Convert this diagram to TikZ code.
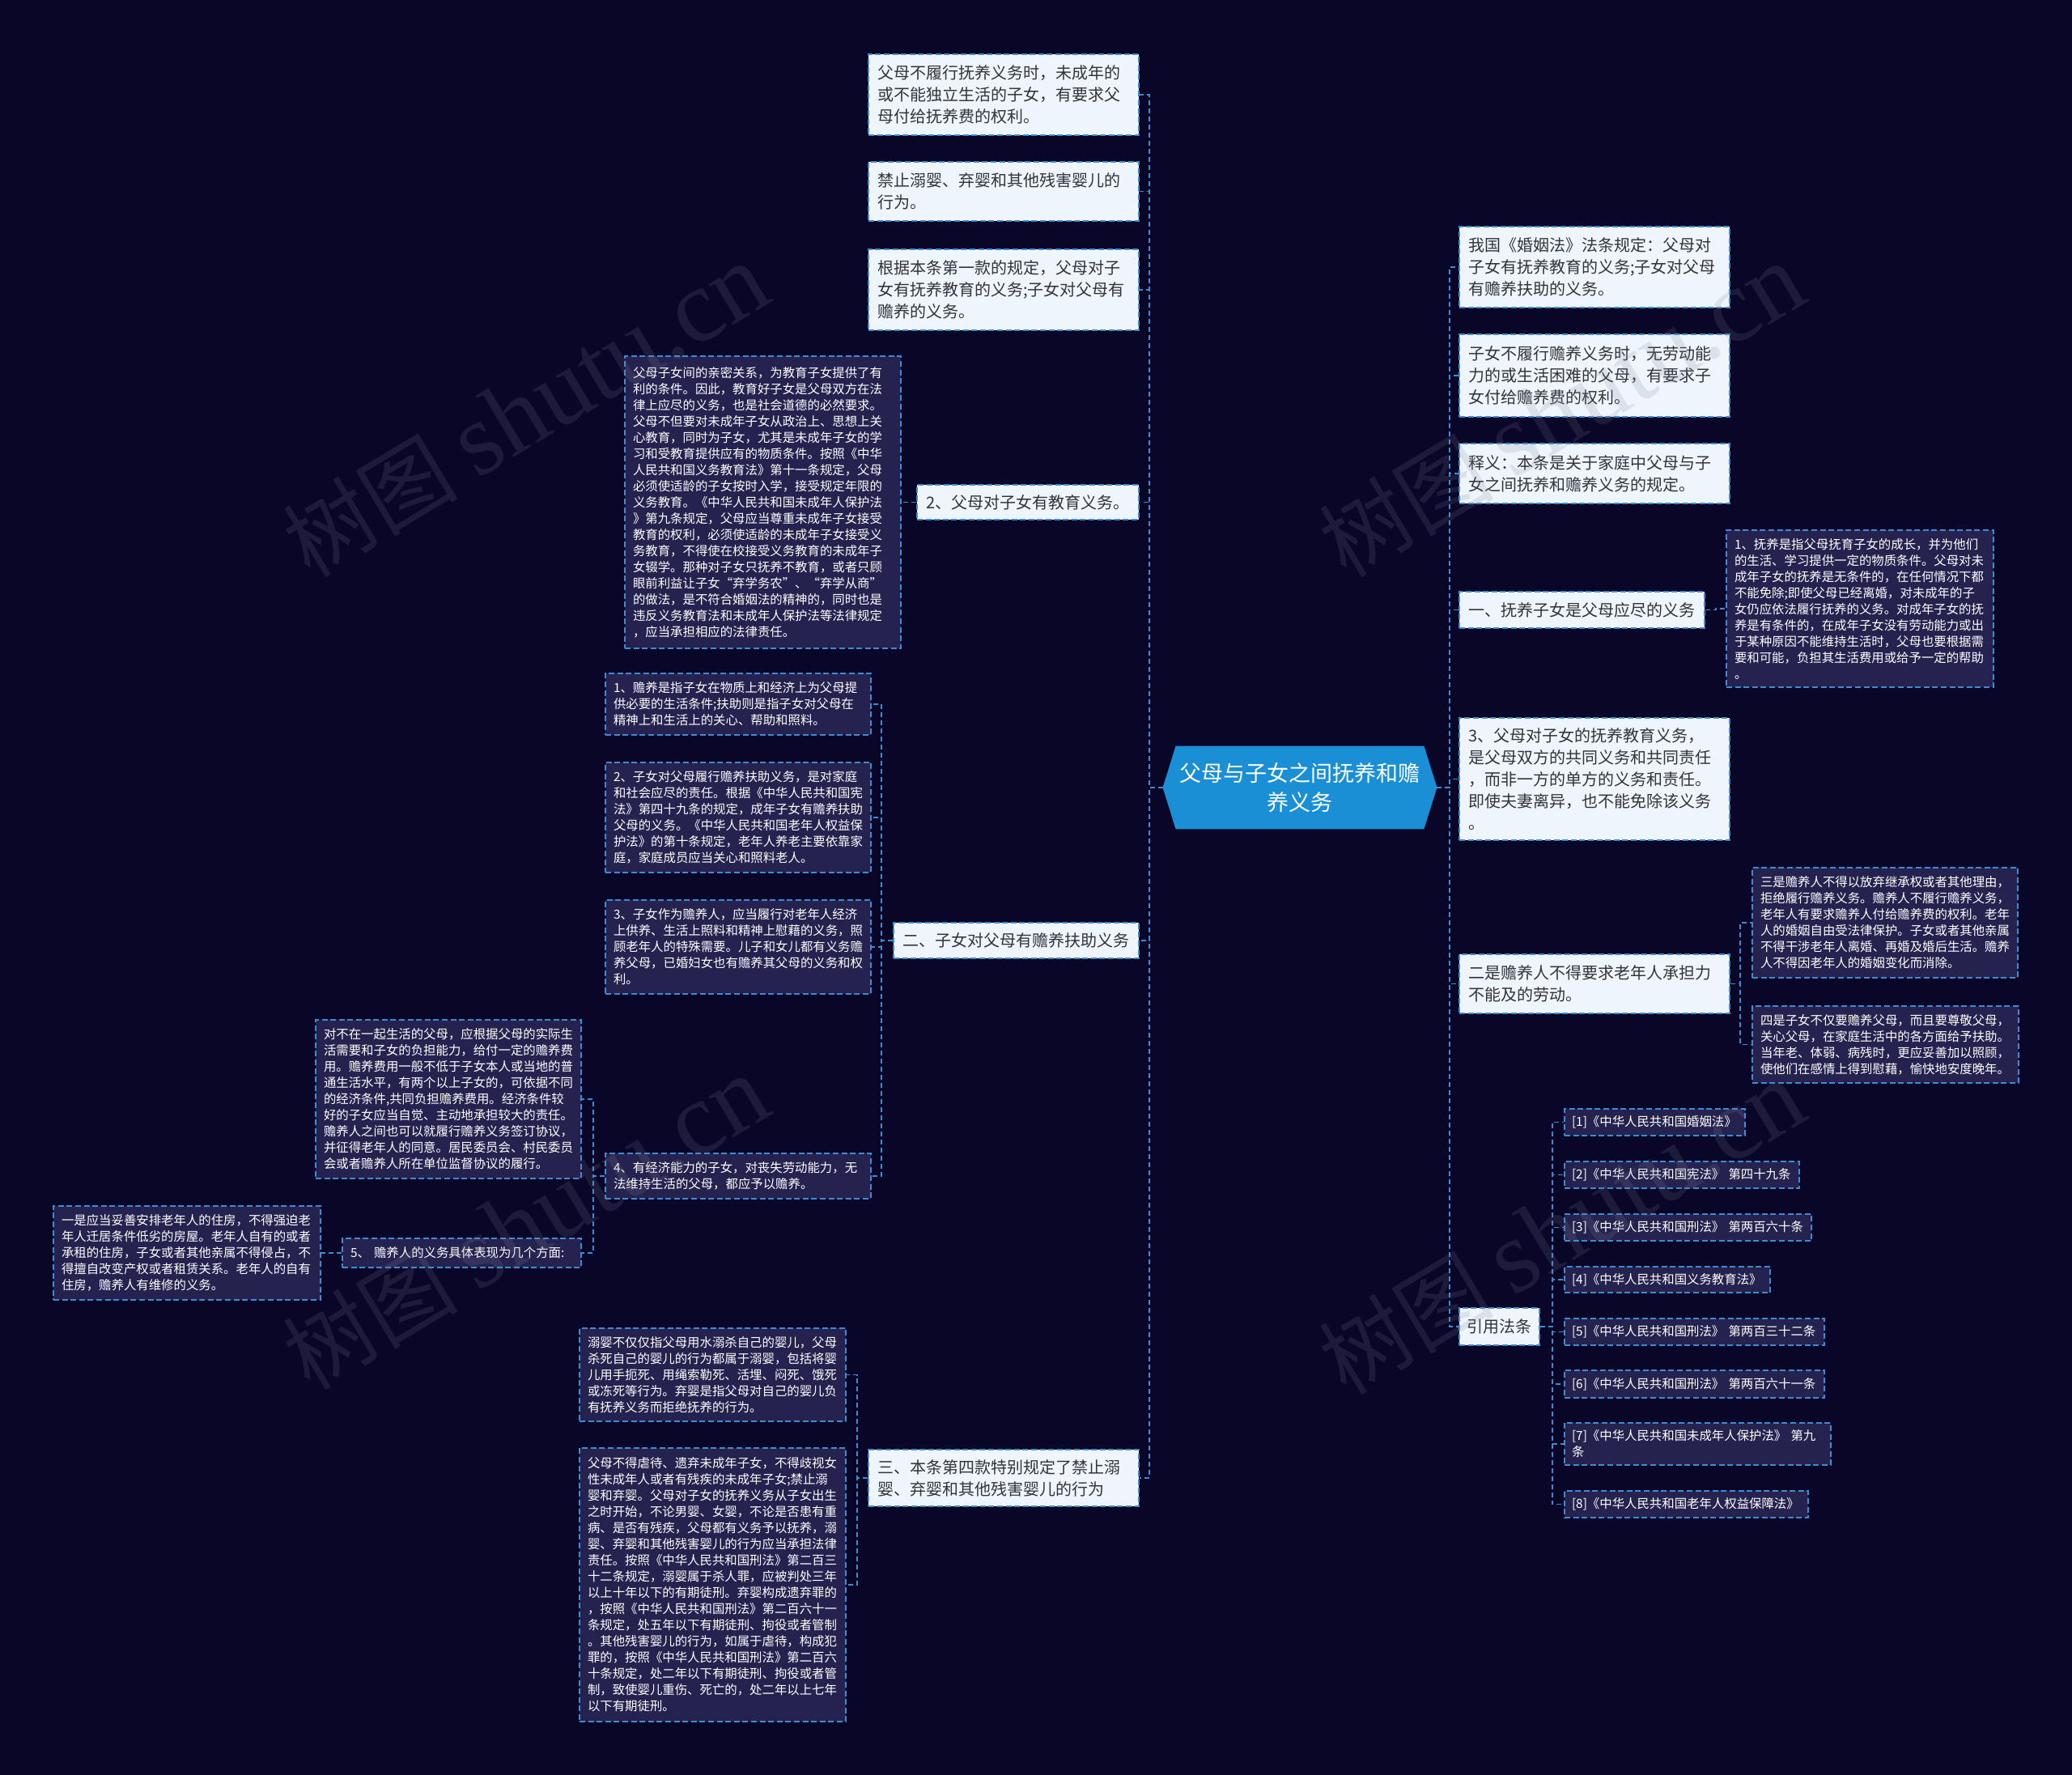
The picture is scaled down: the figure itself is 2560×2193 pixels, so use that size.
\documentclass[tikz,border=0pt]{standalone}
\usepackage{fontspec}
\setmainfont{Noto Sans CJK SC}
\newfontfamily\wmlatin{Liberation Serif}
\usetikzlibrary{backgrounds}
\definecolor{bgc}{RGB}{10,6,40}
\definecolor{wfill}{RGB}{238,245,253}
\definecolor{wtext}{RGB}{51,51,56}
\definecolor{dfill}{RGB}{38,34,80}
\definecolor{bline}{RGB}{60,140,212}
\definecolor{cfill}{RGB}{27,143,214}
\definecolor{wmc}{RGB}{130,130,150}
\newcommand\bnode[8]{%
  \pgfmathsetmacro\bnw{(#6-#4)/2}%
  \pgfmathsetmacro\bnh{(#7-#5)/2}%
  \pgfmathsetmacro\bnt{(#6-#4)/2-2*#3}%
  \pgfmathsetmacro\bnx{(#4+#6)/2}%
  \pgfmathsetmacro\bny{(#5+#7)/2}%
  \node[#2, inner xsep=#3pt, minimum width=\bnw pt, minimum height=\bnh pt, text width=\bnt pt] (#1) at (\bnx,\bny) {#8};%
}
\tikzset{
  boxbase/.style={draw=bline, line width=0.9pt, dash pattern=on 3.5pt off 1.8pt, align=left, inner ysep=2pt},
  wbox/.style={boxbase, fill=wfill, text=wtext, font=\fontsize{10pt}{13.5pt}\selectfont},
  dbox/.style={boxbase, fill=dfill, text=white, font=\fontsize{7.7pt}{10pt}\selectfont},
  conn/.style={draw=bline, line width=0.75pt, dash pattern=on 3pt off 2pt},
  cnode/.style={text=white, align=center, font=\fontsize{13.5pt}{18pt}\selectfont, inner sep=0pt},
  wmark/.style={text=wmc, opacity=0.17, font=\fontsize{54pt}{58pt}\selectfont, rotate=31, inner sep=0pt},
}
\begin{document}
\begin{tikzpicture}[x=0.5pt,y=-0.5pt]
\begin{pgfonlayer}{background}
\fill[bgc] (0,0) rectangle (2560,2193);
\end{pgfonlayer}
\useasboundingbox (0,0) rectangle (2560,2193);

% centre
\node[cnode, minimum width=169pt, minimum height=51pt] (c) at (1606,973) {父母与子女之间抚养和赡\\养义务};
\begin{pgfonlayer}{background}
\fill[cfill] (c.west) -- ([xshift=8pt]c.north west) -- ([xshift=-8pt]c.north east) -- (c.east) -- ([xshift=-8pt]c.south east) -- ([xshift=8pt]c.south west) -- cycle;
\end{pgfonlayer}

% left side, level 1
\bnode{A1}{wbox}{5.5}{1073}{67}{1407}{167}{父母不履行抚养义务时，未成年的\\或不能独立生活的子女，有要求父\\母付给抚养费的权利。}
\bnode{A2}{wbox}{5.5}{1073}{200}{1407}{273}{禁止溺婴、弃婴和其他残害婴儿的\\行为。}
\bnode{A3}{wbox}{5.5}{1073}{308}{1407}{408}{根据本条第一款的规定，父母对子\\女有抚养教育的义务;子女对父母有\\赡养的义务。}
\bnode{A4}{wbox}{5.5}{1133}{599}{1407}{642}{2、父母对子女有教育义务。}
\bnode{A5}{wbox}{5.5}{1104}{1140}{1407}{1184}{二、子女对父母有赡养扶助义务}
\bnode{A6}{wbox}{5.5}{1073}{1791}{1407}{1861}{三、本条第四款特别规定了禁止溺\\婴、弃婴和其他残害婴儿的行为}

% left side, deeper
\bnode{B1}{dbox}{5}{772}{440}{1113}{801}{父母子女间的亲密关系，为教育子女提供了有\\利的条件。因此，教育好子女是父母双方在法\\律上应尽的义务，也是社会道德的必然要求。\\父母不但要对未成年子女从政治上、思想上关\\心教育，同时为子女，尤其是未成年子女的学\\习和受教育提供应有的物质条件。按照《中华\\人民共和国义务教育法》第十一条规定，父母\\必须使适龄的子女按时入学，接受规定年限的\\义务教育。《中华人民共和国未成年人保护法\\》第九条规定，父母应当尊重未成年子女接受\\教育的权利，必须使适龄的未成年子女接受义\\务教育，不得使在校接受义务教育的未成年子\\女辍学。那种对子女只抚养不教育，或者只顾\\眼前利益让子女“弃学务农”、“弃学从商”\\的做法，是不符合婚姻法的精神的，同时也是\\违反义务教育法和未成年人保护法等法律规定\\，应当承担相应的法律责任。}
\bnode{C1}{dbox}{5}{748}{832}{1076}{908}{1、赡养是指子女在物质上和经济上为父母提\\供必要的生活条件;扶助则是指子女对父母在\\精神上和生活上的关心、帮助和照料。}
\bnode{C2}{dbox}{5}{748}{942}{1076}{1078}{2、子女对父母履行赡养扶助义务，是对家庭\\和社会应尽的责任。根据《中华人民共和国宪\\法》第四十九条的规定，成年子女有赡养扶助\\父母的义务。《中华人民共和国老年人权益保\\护法》的第十条规定，老年人养老主要依靠家\\庭，家庭成员应当关心和照料老人。}
\bnode{C3}{dbox}{5}{748}{1112}{1076}{1228}{3、子女作为赡养人，应当履行对老年人经济\\上供养、生活上照料和精神上慰藉的义务，照\\顾老年人的特殊需要。儿子和女儿都有义务赡\\养父母，已婚妇女也有赡养其父母的义务和权\\利。}
\bnode{C4}{dbox}{5}{748}{1425}{1076}{1481}{4、有经济能力的子女，对丧失劳动能力，无\\法维持生活的父母，都应予以赡养。}
\bnode{D1}{dbox}{5}{390}{1260}{718}{1456}{对不在一起生活的父母，应根据父母的实际生\\活需要和子女的负担能力，给付一定的赡养费\\用。赡养费用一般不低于子女本人或当地的普\\通生活水平，有两个以上子女的，可依据不同\\的经济条件,共同负担赡养费用。经济条件较\\好的子女应当自觉、主动地承担较大的责任。\\赡养人之间也可以就履行赡养义务签订协议，\\并征得老年人的同意。居民委员会、村民委员\\会或者赡养人所在单位监督协议的履行。}
\bnode{C5}{dbox}{5}{423}{1530}{718}{1566}{5、 赡养人的义务具体表现为几个方面:}
\bnode{E1}{dbox}{5}{66}{1490}{396}{1606}{一是应当妥善安排老年人的住房，不得强迫老\\年人迁居条件低劣的房屋。老年人自有的或者\\承租的住房，子女或者其他亲属不得侵占，不\\得擅自改变产权或者租赁关系。老年人的自有\\住房，赡养人有维修的义务。}
\bnode{F1}{dbox}{5}{716}{1641}{1045}{1756}{溺婴不仅仅指父母用水溺杀自己的婴儿，父母\\杀死自己的婴儿的行为都属于溺婴，包括将婴\\儿用手扼死、用绳索勒死、活埋、闷死、饿死\\或冻死等行为。弃婴是指父母对自己的婴儿负\\有抚养义务而拒绝抚养的行为。}
\bnode{F2}{dbox}{5}{716}{1789}{1045}{2127}{父母不得虐待、遗弃未成年子女，不得歧视女\\性未成年人或者有残疾的未成年子女;禁止溺\\婴和弃婴。父母对子女的抚养义务从子女出生\\之时开始，不论男婴、女婴，不论是否患有重\\病、是否有残疾，父母都有义务予以抚养，溺\\婴、弃婴和其他残害婴儿的行为应当承担法律\\责任。按照《中华人民共和国刑法》第二百三\\十二条规定，溺婴属于杀人罪，应被判处三年\\以上十年以下的有期徒刑。弃婴构成遗弃罪的\\，按照《中华人民共和国刑法》第二百六十一\\条规定，处五年以下有期徒刑、拘役或者管制\\。其他残害婴儿的行为，如属于虐待，构成犯\\罪的，按照《中华人民共和国刑法》第二百六\\十条规定，处二年以下有期徒刑、拘役或者管\\制，致使婴儿重伤、死亡的，处二年以上七年\\以下有期徒刑。}

% right side, level 1
\bnode{R1}{wbox}{5.5}{1803}{280}{2137}{380}{我国《婚姻法》法条规定：父母对\\子女有抚养教育的义务;子女对父母\\有赡养扶助的义务。}
\bnode{R2}{wbox}{5.5}{1803}{413}{2137}{515}{子女不履行赡养义务时，无劳动能\\力的或生活困难的父母，有要求子\\女付给赡养费的权利。}
\bnode{R3}{wbox}{5.5}{1803}{548}{2137}{622}{释义：本条是关于家庭中父母与子\\女之间抚养和赡养义务的规定。}
\bnode{R4}{wbox}{5.5}{1803}{731}{2106}{776}{一、抚养子女是父母应尽的义务}
\bnode{R5}{wbox}{5.5}{1803}{887}{2137}{1038}{3、父母对子女的抚养教育义务，\\是父母双方的共同义务和共同责任\\，而非一方的单方的义务和责任。\\即使夫妻离异，也不能免除该义务\\。}
\bnode{R6}{wbox}{5.5}{1803}{1179}{2137}{1252}{二是赡养人不得要求老年人承担力\\不能及的劳动。}
\bnode{RF}{wbox}{4.5}{1803}{1616}{1902}{1662}{引用法条}

% right side, deeper
\bnode{S1}{dbox}{5}{2133}{655}{2463}{849}{1、抚养是指父母抚育子女的成长，并为他们\\的生活、学习提供一定的物质条件。父母对未\\成年子女的抚养是无条件的，在任何情况下都\\不能免除;即使父母已经离婚，对未成年的子\\女仍应依法履行抚养的义务。对成年子女的抚\\养是有条件的，在成年子女没有劳动能力或出\\于某种原因不能维持生活时，父母也要根据需\\要和可能，负担其生活费用或给予一定的帮助\\。}
\bnode{T1}{dbox}{5}{2165}{1072}{2493}{1208}{三是赡养人不得以放弃继承权或者其他理由，\\拒绝履行赡养义务。赡养人不履行赡养义务，\\老年人有要求赡养人付给赡养费的权利。老年\\人的婚姻自由受法律保护。子女或者其他亲属\\不得干涉老年人离婚、再婚及婚后生活。赡养\\人不得因老年人的婚姻变化而消除。}
\bnode{T2}{dbox}{5}{2165}{1243}{2494}{1338}{四是子女不仅要赡养父母，而且要尊敬父母，\\关心父母，在家庭生活中的各方面给予扶助。\\当年老、体弱、病残时，更应妥善加以照顾，\\使他们在感情上得到慰藉，愉快地安度晚年。}
\bnode{G1}{dbox}{4.5}{1933}{1370}{2156}{1403}{[1]《中华人民共和国婚姻法》}
\bnode{G2}{dbox}{4.5}{1933}{1435}{2223}{1468}{[2]《中华人民共和国宪法》 第四十九条}
\bnode{G3}{dbox}{4.5}{1933}{1500}{2238}{1533}{[3]《中华人民共和国刑法》 第两百六十条}
\bnode{G4}{dbox}{4.5}{1933}{1565}{2187}{1597}{[4]《中华人民共和国义务教育法》}
\bnode{G5}{dbox}{4.5}{1933}{1629}{2254}{1662}{[5]《中华人民共和国刑法》 第两百三十二条}
\bnode{G6}{dbox}{4.5}{1933}{1693}{2254}{1727}{[6]《中华人民共和国刑法》 第两百六十一条}
\bnode{G7}{dbox}{4.5}{1933}{1758}{2262}{1810}{[7]《中华人民共和国未成年人保护法》 第九\\条}
\bnode{G8}{dbox}{4.5}{1933}{1842}{2234}{1875}{[8]《中华人民共和国老年人权益保障法》}

% junction coordinates
\coordinate (tl) at (1420,0);
\coordinate (tr) at (1791,0);
\coordinate (ja) at (1089,0);
\coordinate (jc) at (733,0);
\coordinate (jf) at (1059,0);
\coordinate (js) at (2120,0);
\coordinate (jt) at (2150,0);
\coordinate (jr) at (1918,0);

% connectors
\foreach \n in {A1,A2,A3,A4,A5,A6}
  \draw[conn] (c.west) -- (c.west -| tl) |- (\n.east);
\foreach \n in {R1,R2,R3,R4,R5,R6,RF}
  \draw[conn] (c.east) -- (c.east -| tr) |- (\n.west);
\draw[conn] (A4.west) -- (A4.west -| B1.east);
\foreach \n in {C1,C2,C3,C4}
  \draw[conn] (A5.west) -- (A5.west -| ja) |- (\n.east);
\foreach \n in {D1,C5}
  \draw[conn] (C4.west) -- (C4.west -| jc) |- (\n.east);
\draw[conn] (C5.west) -- (C5.west -| E1.east);
\foreach \n in {F1,F2}
  \draw[conn] (A6.west) -- (A6.west -| jf) |- (\n.west -| F1.east);
\draw[conn] (R4.east) -- (R4.east -| js) |- (S1.west);
\foreach \n in {T1,T2}
  \draw[conn] (R6.east) -- (R6.east -| jt) |- (\n.west);
\foreach \n in {G1,G2,G3,G4,G5,G6,G7,G8}
  \draw[conn] (RF.east) -- (RF.east -| jr) |- (\n.west);

% watermarks
\node[wmark] (wm1) at (650,508) {树图 {\wmlatin\fontsize{64pt}{68pt}\selectfont shutu.cn}};
\node[wmark] (wm2) at (650,1512) {树图 {\wmlatin\fontsize{64pt}{68pt}\selectfont shutu.cn}};
\node[wmark] (wm3) at (1930,508) {树图 {\wmlatin\fontsize{64pt}{68pt}\selectfont shutu.cn}};
\node[wmark] (wm4) at (1930,1518) {树图 {\wmlatin\fontsize{64pt}{68pt}\selectfont shutu.cn}};
\end{tikzpicture}
\end{document}
